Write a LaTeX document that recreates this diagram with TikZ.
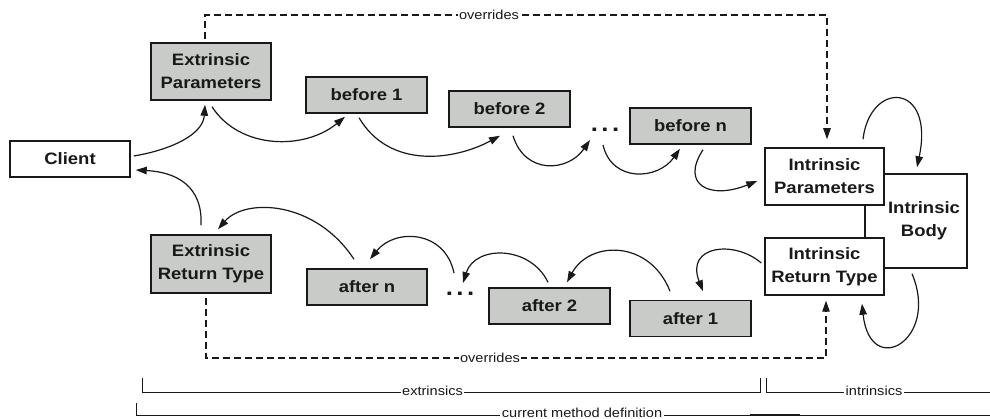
\documentclass[tikz,border=0pt]{standalone}
\usepackage{fontspec}
\setmainfont{Liberation Sans}[FakeStretch=1.12]
\usetikzlibrary{arrows.meta}
\definecolor{boxgray}{RGB}{200,203,199}
\definecolor{ink}{RGB}{25,25,25}
\begin{document}
\begin{tikzpicture}[x=1pt,y=-1pt,
  box/.style={draw=ink,line width=1.5pt,inner sep=0pt,align=center,
    font=\fontsize{16.5}{23}\selectfont\bfseries,text=ink},
  grey/.style={box,fill=boxgray},
  white/.style={box,fill=white},
  flow/.style={line width=1.2pt,draw=ink,-{Triangle[length=11pt,width=7.5pt]}},
  over/.style={line width=1.1pt,draw=ink,dash pattern=on 7pt off 4pt,
    -{Triangle[length=11pt,width=7.5pt]}},
  span/.style={line width=1pt,draw=ink},
  small/.style={font=\fontsize{13}{13}\selectfont,text=ink,fill=white,inner sep=1.5pt},
  dots/.style={font=\fontsize{23}{23}\selectfont\bfseries,text=ink,anchor=base,inner sep=0pt}]
\useasboundingbox (0,0) rectangle (990,419);

% intrinsic body sits behind the two intrinsic boxes
\node[white,minimum width=102pt,minimum height=94pt] (body) at (916,221) {};
\node[box,draw=none] (bodytext) at (924,221) {Intrinsic\\Body};

% boxes
\node[white,minimum width=120pt,minimum height=36pt] (client) at (70,159) {Client};
\node[grey,minimum width=120pt,minimum height=57pt] (extp) at (211,71.5) {Extrinsic\\Parameters};
\node[grey,minimum width=121pt,minimum height=36pt] (b1) at (366.5,95) {before 1};
\node[grey,minimum width=121pt,minimum height=36pt] (b2) at (509.5,109) {before 2};
\node[grey,minimum width=121pt,minimum height=36pt] (bn) at (690.5,126) {before n};
\node[white,minimum width=119pt,minimum height=57pt] (intp) at (824.5,176.5) {Intrinsic\\Parameters};
\node[white,minimum width=119pt,minimum height=57pt] (intr) at (824.5,266.5) {Intrinsic\\Return Type};
\node[grey,minimum width=120pt,minimum height=58pt] (extr) at (211,264) {Extrinsic\\Return Type};
\node[grey,minimum width=120pt,minimum height=36pt] (an) at (367,287) {after n};
\node[grey,minimum width=121pt,minimum height=36pt] (a2) at (549.5,306) {after 2};
\node[grey,minimum width=121pt,minimum height=36pt] (a1) at (690.5,318.5) {after 1};
\node[dots] (dotsA) at (605,132) {.\kern3.5pt.\kern3.5pt.};
\node[dots] (dotsB) at (460,296) {.\kern3.5pt.\kern3.5pt.};

% call chain, outward
\draw[flow] ([xshift=3pt,yshift=3pt]client.east) .. controls (170,150) and (203,135) .. ([xshift=-6pt,yshift=-4pt]extp.south);
\draw[flow] ([xshift=1pt,yshift=-6pt]extp.south) .. controls (240,150) and (305,150) .. ([xshift=-21.5pt,yshift=-3pt]b1.south);
\draw[flow] ([xshift=-7.5pt,yshift=-4pt]b1.south) .. controls (390,170) and (455,160) .. ([xshift=-9.5pt,yshift=-8pt]b2.south);
\draw[flow] ([xshift=3.5pt,yshift=-8pt]b2.south) .. controls (525,175) and (568,172) .. ([xshift=-15pt,yshift=-8pt]dotsA.base);
\draw[flow] ([xshift=-2pt,yshift=-13pt]dotsA.base) .. controls (612,183) and (658,180) .. ([xshift=-10.5pt,yshift=-4pt]bn.south);
\draw[flow] ([xshift=12.5pt,yshift=-5pt]bn.south) .. controls (680,185) and (710,200) .. ([xshift=-7pt,yshift=-4.5pt]intp.west);
\draw[flow] ([xshift=38.5pt,yshift=8pt]intp.north) .. controls (870,80) and (935,82) .. ([xshift=1pt,yshift=6pt]body.north);

% return chain, back to the client
\draw[flow] ([xshift=-4pt,yshift=-5pt]body.south) .. controls (940,340) and (870,380) .. ([xshift=37.5pt,yshift=-8pt]intr.south);
\draw[flow] ([xshift=-3pt,yshift=3.5pt]intr.west) .. controls (735,240) and (685,245) .. ([xshift=12.5pt,yshift=8.5pt]a1.north);
\draw[flow] ([xshift=-20.5pt,yshift=8.5pt]a1.north) .. controls (650,240) and (590,240) .. ([xshift=17.5pt,yshift=5pt]a2.north);
\draw[flow] ([xshift=-1.5pt,yshift=5pt]a2.north) .. controls (530,245) and (475,245) .. ([xshift=3pt,yshift=13pt]dotsB.base);
\draw[flow] ([xshift=-6pt,yshift=23pt]dotsB.base) .. controls (445,230) and (395,228) .. ([xshift=3pt,yshift=9pt]an.north);
\draw[flow] ([xshift=-13pt,yshift=9pt]an.north) .. controls (315,200) and (245,198) .. ([xshift=7pt,yshift=5pt]extr.north);
\draw[flow] ([xshift=-10pt,yshift=9pt]extr.north) .. controls (203,185) and (175,172) .. ([xshift=5pt,yshift=-11pt]client.east);

% overrides links
\draw[over] ([xshift=-6pt,yshift=3pt]extp.north) -- (205,15) -- (827,15) -- ([xshift=2.5pt,yshift=8pt]intp.north);
\node[small] (ovtop) at (489,15) {overrides};
\draw[over] ([xshift=-5pt,yshift=-4pt]extr.south) -- (206,358) -- (826,358) -- ([xshift=1.5pt,yshift=-5pt]intr.south);
\node[small] (ovbot) at (490,358) {overrides};

% spans along the bottom
\coordinate (exL) at (142,378);
\coordinate (exR) at (760,378);
\coordinate (inL) at (766,378);
\coordinate (inR) at (990,392);
\coordinate (cmL) at (136,403);
\coordinate (cmR) at (990,415);
\draw[span] (exL) -- (142,392) -- (760,392) -- (exR);
\node[small] (extxt) at (432.5,391) {extrinsics};
\draw[span] (inL) -- (766,392) -- (inR);
\node[small] (intxt) at (874,391) {intrinsics};
\draw[span] (cmL) -- (136,415) -- (cmR);
\draw[line width=1.8pt,draw=ink] (750,415.3) -- (800,415.3);
\node[small] (cmtxt) at (582,412.5) {current method definition};
\end{tikzpicture}
\end{document}
